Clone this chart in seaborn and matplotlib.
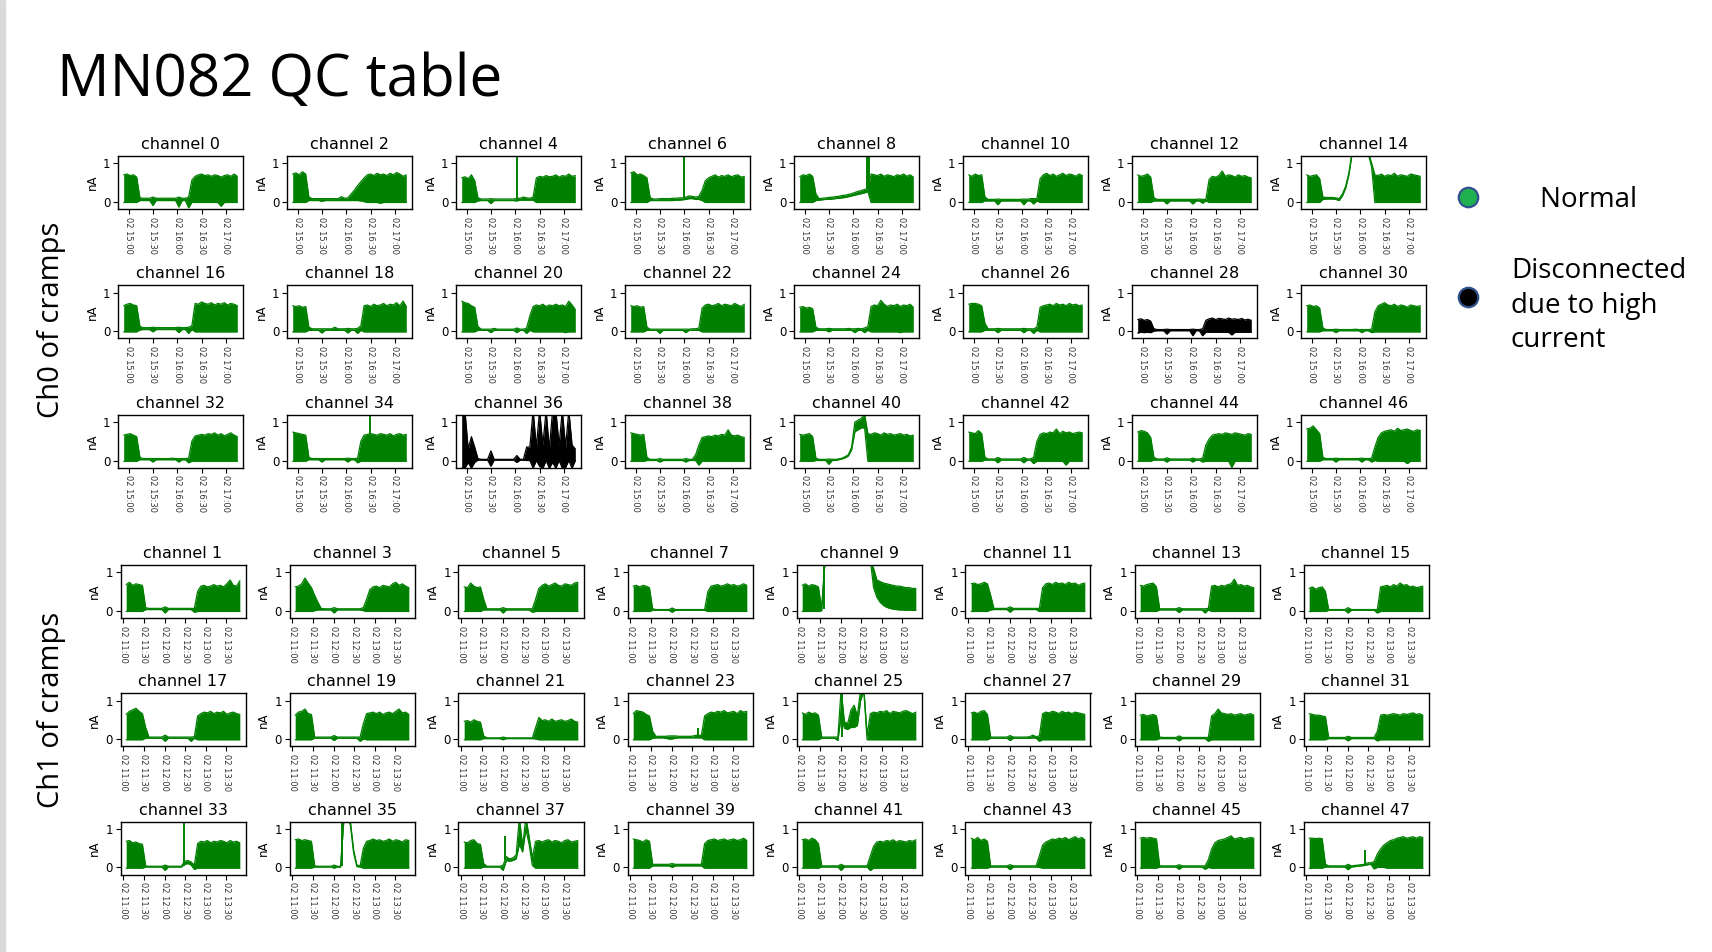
import numpy as np
import pandas as pd
import matplotlib
matplotlib.use("Agg")
import matplotlib.pyplot as plt
import matplotlib.dates as mdates
from matplotlib.lines import Line2D
from matplotlib.patches import Rectangle
from matplotlib.legend_handler import HandlerLine2D
import seaborn as sns

# 36 samples per session (day 02)
TIMES_CH0 = pd.date_range("2021-06-02 14:54", "2021-06-02 17:14", periods=36)
TIMES_CH1 = pd.date_range("2021-06-02 11:04", "2021-06-02 13:50", periods=36)

# upper / lower edge of each trace, in 0.01 nA
CH0_HI = [70,72,68,70,64,10, 9,9,9,12,9,9, 9,9,9,9,9,12, 9,9,12,56,66,70, 72,68,70,66,70,68, 64,68,70,66,72,66]
CH0_LO = [-2,-2,-2,-2,-2,3, 3,3,3,-10,3,3, 3,3,3,3,3,-14, 3,3,-16,-2,-2,-2, -2,-2,-2,-2,-2,-2, -12,-2,-2,-2,-2,-2]
CH2_HI = [72,75,70,78,72,12, 8,8,8,8,8,8, 8,8,8,13,9,10, 20,30,42,52,62,70, 72,68,74,70,72,68, 74,70,76,72,66,70]
CH2_LO = [-2,-2,-2,-2,-2,3, 3,3,3,1,3,3, 3,3,3,3,3,3, 3,3,3,2,0,-2, -2,-2,-2,-4,-2,-2, -2,-2,-2,-2,-2,-2]
CH4_HI = [62,65,60,70,55,10, 7,7,7,8,7,7, 7,7,7,7,7,9, 9,12,10,9,12,62, 66,64,68,65,66,70, 64,68,66,72,66,68]
CH4_LO = [-2,-2,-2,-2,-2,2, 3,3,3,-5,3,3, 3,3,3,3,3,2, 4,4,4,4,4,-2, -2,-2,-2,-2,-2,-2, -2,-2,-2,-2,-2,-2]
CH6_HI = [75,78,70,72,68,62, 10,7,7,8,8,8, 8,9,9,10,10,12, 15,14,12,14,30,55, 62,66,70,64,68,66, 70,65,68,70,64,66]
CH6_LO = [-2,-2,-2,-2,-2,-2, 3,3,3,3,3,3, 3,3,4,4,5,6, 8,8,6,6,3,-2, -2,-2,-2,-2,-2,-2, -2,-2,-2,-2,-2,-2]
CH8_HI = [65,70,68,72,66,20, 8,9,10,11,12,13, 14,16,17,19,21,24, 27,29,32,34,72,70, 68,72,66,70,68,65, 70,68,72,66,70,64]
CH8_LO = [-2,-2,-2,-2,-2,3, 4,5,6,6,7,8, 9,10,11,13,15,17, 19,21,23,26,-2,-2, -2,-2,-2,-2,-2,-2, -2,-2,-2,-2,-2,-2]
CH10_HI = [70,66,72,68,70,12, 6,6,6,7,6,6, 6,6,6,6,6,7, 6,8,8,8,60,70, 74,68,72,66,70,74, 68,72,70,66,72,68]
CH10_LO = [-2,-2,-2,-2,-2,2, 2,2,2,-8,2,2, 2,2,2,2,2,-8, 2,2,-6,2,-2,-2, -2,-2,-2,-2,-2,-2, -2,-2,-2,-2,-2,-2]
CH12_HI = [70,66,68,72,64,10, 6,6,6,6,6,6, 6,6,6,6,6,6, 6,7,6,6,58,66, 64,68,80,66,70,68, 64,70,66,68,64,62]
CH12_LO = [-2,-2,-2,-2,-2,2, 2,2,2,-6,2,2, 2,2,2,2,2,-6, 2,2,-4,2,-2,-2, -2,-2,-2,-2,-2,-2, -2,-2,-2,-2,-2,-2]
CH14_HI = [70,66,68,70,60,12, 11,11,11,10,8,20, 40,75,130,130,130,130, 130,130,100,70,68,72, 66,70,68,74,66,70, 68,66,72,70,68,66]
CH14_LO = [-2,-2,-2,-2,-2,6, 7,7,7,6,3,15, 35,70,125,130,130,130, 130,125,90,-2,-2,-2, -2,-2,-2,-2,-2,-2, -2,-2,-2,-2,-2,-2]
CH16_HI = [66,70,72,68,66,12, 9,9,9,10,9,9, 9,9,9,9,9,10, 9,9,10,14,72,70, 76,72,70,74,68,72, 70,74,68,72,70,66]
CH16_LO = [-2,-2,-2,-2,-2,3, 4,4,4,-2,4,4, 4,4,4,4,4,-4, 4,4,-6,4,-2,-2, -2,-2,-2,-2,-2,-2, -2,-2,-2,-2,-2,-2]
CH18_HI = [66,64,66,62,64,10, 6,6,6,6,6,6, 6,10,6,6,6,7, 6,6,7,14,66,68, 64,70,66,68,72,66, 70,68,74,66,78,64]
CH18_LO = [-2,-2,-2,-2,-2,2, 2,2,2,-5,2,2, 2,2,2,2,2,-5, 2,2,-6,2,-2,-2, -2,-2,-2,-2,-2,-2, -2,-2,-2,-2,-2,-2]
CH20_HI = [78,74,72,66,62,12, 5,5,5,5,7,5, 5,5,5,5,5,8, 5,5,8,40,64,68, 66,70,64,68,66,70, 66,68,64,78,68,56]
CH20_LO = [-2,-2,-2,-2,-2,2, 2,2,2,-4,2,2, 2,2,2,2,2,-4, 2,2,-6,2,-2,-2, -2,-2,-2,-2,-2,-2, -2,-2,-4,-2,-2,-2]
CH22_HI = [66,64,66,62,64,10, 5,5,5,5,5,5, 5,5,5,5,5,5, 5,6,6,8,60,68, 70,66,68,72,66,70, 68,66,72,68,64,70]
CH22_LO = [-2,-2,-2,-2,-2,2, 2,2,2,-6,2,2, 2,2,2,2,2,-4, 2,2,2,2,-2,-2, -2,-2,-2,-2,-2,-2, -2,-2,-2,-2,-2,-2]
CH24_HI = [62,64,60,62,58,10, 6,6,6,7,6,6, 6,6,6,7,6,6, 7,6,8,12,64,68, 66,80,70,64,68,66, 70,64,68,66,70,62]
CH24_LO = [-2,-2,-2,-2,-2,2, 2,2,2,-2,2,2, 2,2,2,2,2,-4, 2,2,-4,2,-2,-2, -2,-2,-2,-2,-2,-2, -2,-4,-2,-2,-2,-2]
CH26_HI = [70,72,72,70,66,20, 6,6,6,7,6,6, 6,6,6,6,6,7, 6,6,6,10,62,66, 68,70,66,72,68,70, 66,72,68,70,66,68]
CH26_LO = [-2,-2,-2,-2,-2,2, 2,2,2,-4,2,2, 2,2,2,2,2,-4, 2,2,-6,2,-2,-2, -2,-2,-2,-2,-2,-2, -2,-2,-2,-2,-2,-2]
CH28_HI = [30,32,28,30,26,6, 4,4,4,5,4,4, 4,4,4,4,4,5, 4,4,6,28,32,34, 30,33,32,30,34,31, 32,30,33,29,31,28]
CH28_LO = [-5,-3,-4,-3,-4,0, 1,1,1,-8,1,1, 1,1,1,1,1,-12, 1,1,-12,-3,-3,-3, -3,-3,-3,-3,-3,-10, -3,-3,-3,-3,-3,-3]
CH30_HI = [66,68,64,66,60,8, 4,4,4,5,4,4, 4,4,4,5,4,4, 4,4,5,50,66,70, 74,68,66,70,64,68, 66,62,68,66,64,66]
CH30_LO = [-2,-2,-2,-2,-2,1, 1,1,1,-4,1,1, 1,1,1,1,1,-4, 1,1,-4,-2,-2,-2, -2,-2,-2,-2,-2,-2, -2,-2,-2,-2,-2,-2]
CH32_HI = [66,68,70,66,62,8, 5,5,5,5,5,5, 5,5,5,6,5,5, 5,5,6,50,64,66, 68,66,70,68,72,66, 70,64,68,72,66,62]
CH32_LO = [-2,-2,-2,-2,-2,2, 2,2,2,-4,2,2, 2,2,2,2,2,-4, 2,2,-6,-2,-2,-2, -2,-2,-2,-2,-2,-2, -2,-2,-2,-2,-2,-2]
CH34_HI = [74,72,70,68,66,8, 5,5,5,5,5,5, 5,5,5,5,5,6, 5,5,6,50,66,68, 70,68,66,70,68,66, 70,64,68,70,66,68]
CH34_LO = [-2,-2,-2,-2,-2,2, 2,2,2,-4,2,2, 2,2,2,2,2,-4, 2,2,-6,-2,-2,-2, -2,-2,-2,-2,-2,-2, -2,-2,-2,-2,-2,-2]
CH36_HI = [130,130,30,62,35,5, 3,3,3,25,3,3, 3,3,3,3,3,13, 3,3,35,35,130,35, 130,40,130,30,130,130, 40,130,35,130,40,30]
CH36_LO = [-20,-20,-5,-20,-5,1, 1,1,1,-15,1,1, 1,1,1,1,1,-5, 1,1,0,0,-20,0, -15,-20,0,-20,-5,-20, 0,-20,-18,0,-20,0]
CH38_HI = [72,70,68,66,68,8, 3,3,3,5,3,3, 3,3,3,3,3,5, 3,3,15,40,60,62, 64,62,66,64,68,66, 80,66,64,66,62,60]
CH38_LO = [-2,-2,-2,-2,-2,0, 0,0,0,-4,0,0, 0,0,0,0,0,-4, 0,0,0,-12,-2,-2, -2,-2,-2,-2,-2,-2, -2,-2,-2,-2,-2,-2]
CH40_HI = [68,66,68,70,62,6, 3,3,3,4,3,3, 4,6,10,15,35,100, 105,110,120,70,68,72, 70,66,72,68,70,66, 68,70,66,68,64,66]
CH40_LO = [-2,-2,-2,-2,-2,0, 0,0,0,-10,0,0, 2,4,7,12,28,75, 80,85,85,-2,-2,-2, -2,-2,-2,-2,-2,-2, -2,-2,-2,-2,-2,-2]
CH42_HI = [74,72,70,78,70,8, 4,4,4,8,4,4, 4,4,4,4,4,8, 4,4,8,50,68,72, 70,74,72,82,70,76, 72,74,70,72,74,72]
CH42_LO = [-2,-2,-2,-2,-2,1, 1,1,1,-6,1,1, 1,1,1,1,1,-6, 1,1,-8,-2,-2,-2, -2,-2,-2,-2,-2,-2, -12,-2,-2,-2,-2,-2]
CH44_HI = [74,78,76,72,60,8, 4,4,4,7,4,4, 4,4,4,4,4,6, 4,4,6,40,56,66, 68,70,68,72,70,68, 72,70,68,66,70,68]
CH44_LO = [-2,-2,-2,-2,-2,1, 1,1,1,-4,1,1, 1,1,1,1,1,-4, 1,1,-4,-2,-2,-2, -2,-2,-2,-2,-2,-18, -2,-2,-2,-2,-2,-2]
CH46_HI = [82,84,90,80,70,8, 5,5,5,6,5,5, 5,5,5,5,5,6, 5,5,6,35,60,72, 76,78,80,76,84,78, 80,82,78,76,80,78]
CH46_LO = [-2,-2,-2,-2,-2,2, 2,2,2,-4,2,2, 2,2,2,2,2,-4, 2,2,-4,0,-2,-2, -2,-2,-2,-2,-2,-2, -2,-8,-2,-2,-2,-2]

CH1_HI = [68,74,66,70,68,66, 8,6,6,6,6,6, 10,6,6,6,6,6, 6,6,6,6,50,64, 66,62,64,68,64,66, 62,70,80,66,64,78]
CH1_LO = [-2,-2,-2,-2,-2,-2, 3,3,3,3,3,3, -6,3,3,3,3,3, 3,3,3,-4,-2,-2, -2,-2,-2,-2,-2,-2, -2,-2,-2,-2,-2,-2]
CH3_HI = [62,64,70,85,72,60, 40,22,6,5,5,5, 8,5,5,5,5,5, 5,5,5,8,30,55, 62,64,60,66,64,62, 70,74,66,70,64,60]
CH3_LO = [-2,-2,-2,-2,-2,-2, 0,2,2,2,2,2, -6,2,2,2,2,2, 2,2,2,0,-2,-2, -2,-2,-2,-2,-2,-2, -2,-2,-2,-2,-2,-2]
CH5_HI = [62,60,72,64,60,62, 30,5,5,5,5,5, 8,5,5,5,5,5, 5,5,5,5,30,58, 66,70,64,68,72,66, 64,70,68,66,72,74]
CH5_LO = [-2,-2,-2,-2,-2,-2, 2,2,2,2,2,2, -6,2,2,2,2,2, 2,2,2,-4,-2,-2, -2,-2,-2,-2,-2,-2, -2,-2,-2,-2,-2,-2]
CH7_HI = [64,66,62,66,64,60, 5,3,3,3,3,3, 7,3,3,3,3,3, 3,3,3,3,3,50, 64,66,68,64,66,70, 66,68,64,66,70,66]
CH7_LO = [-2,-2,-2,-2,-2,-2, 1,1,1,1,1,1, -4,1,1,1,1,1, 1,1,1,1,1,-2, -2,-2,-2,-2,-2,-2, -2,-2,-2,-2,-2,-2]
CH9_HI = [66,70,64,68,66,62, 5,130,130,130,130,130, 130,130,130,130,130,130, 130,130,130,130,110,80, 76,72,70,68,66,64, 64,62,60,60,58,58]
CH9_LO = [-2,-2,-2,-2,-2,-2, 0,125,130,130,130,130, 130,130,130,130,130,130, 130,130,130,130,60,35, 22,14,9,6,4,3, 2,2,1,1,1,1]
CH11_HI = [70,72,68,70,74,70, 40,6,6,6,6,6, 10,6,6,6,6,6, 6,6,6,6,60,70, 72,68,74,70,72,68, 74,70,72,66,70,72]
CH11_LO = [-2,-2,-2,-2,-2,-2, 2,3,3,3,3,3, -4,3,3,3,3,3, 3,3,3,-2,-2,-2, -2,-2,-2,-2,-2,-2, -2,-2,-2,-2,-2,-2]
CH13_HI = [66,64,68,70,72,62, 5,5,5,5,5,5, 8,5,5,5,5,5, 5,5,5,6,64,66, 62,66,64,68,70,82, 66,68,64,66,62,60]
CH13_LO = [-2,-2,-2,-2,-2,-2, 2,2,2,2,2,2, -5,2,2,2,2,2, 2,2,-6,2,-2,-2, -2,-2,-2,-2,-2,-2, -2,-2,-2,-2,-2,-2]
CH15_HI = [58,62,56,60,62,50, 3,3,3,3,3,3, 8,3,3,3,3,3, 3,3,3,3,62,64, 66,62,68,64,72,66, 68,62,64,60,62,64]
CH15_LO = [-2,-2,-2,-2,-2,-2, 1,1,1,1,1,1, -6,1,1,1,1,1, 1,1,1,-6,-2,-2, -2,-2,-2,-2,-2,-2, -2,-2,-2,-2,-2,-2]
CH17_HI = [64,72,76,80,72,66, 30,5,5,5,5,5, 10,5,5,5,5,5, 5,5,5,6,60,66, 70,68,72,66,70,68, 72,64,68,70,66,64]
CH17_LO = [-2,-2,-2,-2,-2,-2, 2,2,2,2,2,2, -6,2,2,2,2,2, 2,2,-6,2,-2,-2, -2,-2,-2,-2,-2,-2, -2,-2,-2,-2,-2,-2]
CH19_HI = [62,70,72,78,66,64, 5,5,5,5,5,5, 9,5,5,5,5,5, 5,5,5,40,66,68, 70,66,70,64,68,70, 66,72,78,68,70,64]
CH19_LO = [-2,-2,-2,-2,-2,-2, 2,2,2,2,2,2, -4,2,2,2,2,2, 2,2,-6,0,-2,-2, -2,-2,-2,-2,-2,-2, -2,-2,-2,-2,-2,-2]
CH21_HI = [46,48,44,50,46,44, 8,3,3,3,3,3, 5,3,3,3,3,3, 3,3,3,3,30,56, 48,50,46,52,46,48, 50,46,48,52,46,44]
CH21_LO = [-2,-2,-2,-2,-2,-2, 1,1,1,1,1,1, -2,1,1,1,1,1, 1,1,1,1,0,-2, -2,-2,-2,-2,-2,-2, -2,-2,-2,-2,-2,-2]
CH23_HI = [66,74,72,70,64,60, 20,7,7,7,7,8, 8,8,7,7,7,7, 7,9,10,9,60,66, 70,68,72,70,74,68, 70,72,66,74,70,72]
CH23_LO = [-2,-2,-2,-2,-2,-2, 2,3,3,3,2,0, 0,2,3,3,3,3, 3,3,3,3,-2,-2, -2,-2,-2,-2,-2,-2, -2,-2,-2,-2,-2,-2]
CH25_HI = [68,64,70,66,68,62, 5,5,5,5,5,5, 130,45,40,75,88,60, 130,130,10,66,70,68, 72,70,74,66,72,70, 68,72,74,70,66,70]
CH25_LO = [-2,-2,-2,-2,-2,-2, 2,2,2,2,2,-4, 60,28,25,30,30,35, 100,125,-2,-2,-2,-2, -2,-2,-2,-2,-2,-2, -2,-2,-2,-2,-2,-2]
CH27_HI = [68,70,66,72,74,64, 5,5,5,5,5,5, 9,5,5,5,5,5, 6,10,6,8,66,70, 68,72,70,66,72,68, 70,66,70,68,66,64]
CH27_LO = [-2,-2,-2,-2,-2,-2, 2,2,2,2,2,2, -4,2,2,2,2,2, 2,3,2,-6,-2,-2, -2,-2,-2,-2,-2,-2, -2,-2,-2,-2,-2,-2]
CH29_HI = [62,64,60,62,64,60, 5,4,4,4,4,4, 8,4,4,4,4,4, 4,4,4,4,60,66, 78,68,66,64,66,62, 64,66,62,64,66,62]
CH29_LO = [-2,-2,-2,-2,-2,-2, 1,1,1,1,1,1, -5,1,1,1,1,1, 1,1,1,-6,-2,-2, -2,-2,-2,-2,-2,-2, -2,-2,-2,-2,-2,-2]
CH31_HI = [66,64,62,62,60,58, 4,4,4,4,4,4, 7,4,4,4,4,4, 4,4,4,20,62,64, 62,64,66,64,62,66, 64,66,68,64,66,62]
CH31_LO = [-2,-2,-2,-2,-2,-2, 1,1,1,1,1,1, -5,1,1,1,1,1, 1,1,1,-5,-2,-2, -2,-2,-2,-2,-2,-2, -2,-2,-2,-2,-2,-2]
CH33_HI = [68,70,64,66,62,60, 4,3,3,3,3,3, 6,3,3,3,3,3, 16,18,14,6,62,68, 66,70,64,68,66,70, 68,64,70,66,68,64]
CH33_LO = [-2,-2,-2,-2,-2,-2, 1,1,1,1,1,1, -8,1,1,1,1,1, 8,10,6,-5,-2,-2, -2,-2,-2,-2,-2,-2, -2,-2,-2,-2,-2,-2]
CH35_HI = [72,74,70,72,70,68, 4,3,3,3,3,3, 6,3,3,130,130,120, 45,6,4,50,68,70, 74,70,72,68,70,74, 68,72,70,66,72,70]
CH35_LO = [-2,-2,-2,-2,-2,-2, 1,1,1,1,1,1, -2,1,1,125,130,110, 38,2,1,-2,-2,-2, -2,-2,-2,-2,-2,-2, -2,-2,-2,-2,-2,-2]
CH37_HI = [66,64,70,72,62,60, 10,3,3,3,3,3, 6,28,22,25,32,130, 55,130,80,25,68,70, 66,70,72,66,70,68, 64,70,72,66,68,70]
CH37_LO = [-2,-2,-2,-2,-2,-2, 1,1,1,1,1,1, -8,18,16,18,22,60, 40,100,60,5,-2,-2, -2,-2,-2,-2,-2,-2, -2,-2,-2,-2,-2,-2]
CH39_HI = [74,72,70,66,72,68, 8,8,8,8,8,8, 10,8,8,8,8,8, 8,8,8,8,62,70, 72,74,70,72,74,70, 72,74,70,72,76,70]
CH39_LO = [-2,-2,-2,-2,-2,-2, 4,4,4,4,4,4, 0,4,4,4,4,4, 4,4,4,4,-2,-2, -2,-2,-2,-2,-2,-2, -2,-2,-2,-2,-2,-2]
CH41_HI = [72,74,70,76,72,62, 4,4,4,4,4,4, 8,4,4,4,4,4, 4,4,4,30,55,66, 68,66,70,68,72,66, 70,68,66,70,68,72]
CH41_LO = [-2,-2,-2,-2,-2,-2, 1,1,1,1,1,1, -8,1,1,1,1,1, 1,1,1,-8,-2,-2, -2,-2,-2,-2,-2,-2, -2,-2,-2,-2,-2,-2]
CH43_HI = [76,72,78,70,74,68, 4,4,4,4,4,4, 7,4,4,4,4,4, 4,4,4,30,58,66, 70,74,72,76,74,78, 72,76,80,74,78,72]
CH43_LO = [-2,-2,-2,-2,-2,-2, 1,1,1,1,1,1, -6,1,1,1,1,1, 1,1,1,0,-2,-2, -2,-2,-2,-2,-2,-2, -2,-2,-2,-2,-2,-2]
CH45_HI = [76,78,76,78,76,74, 4,4,4,4,4,4, 7,4,4,4,4,4, 4,4,4,20,48,64, 70,72,74,78,82,74, 76,78,74,76,78,76]
CH45_LO = [-2,-2,-2,-2,-2,-2, 1,1,1,1,1,1, -5,1,1,1,1,1, 1,1,-5,0,-2,-2, -2,-2,-2,-2,-2,-2, -2,-2,-2,-2,-2,-2]
CH47_HI = [76,76,75,76,75,8, 4,4,4,4,4,4, 8,4,5,6,7,8, 12,12,15,35,48,58, 64,70,72,76,78,80, 76,78,80,76,80,78]
CH47_LO = [-2,-2,-2,-2,-2,1, 1,1,1,1,1,1, -6,1,2,3,4,5, 7,8,-4,0,0,0, -2,-2,-2,-2,-2,-2, -2,-2,-2,-2,-2,-2]

# channels flagged as disconnected (high current)
DISCONNECTED = [28, 36]

# short vertical excursions (channel, time, from nA, to nA)
SPIKE_CHANNELS = [4, 6, 8, 8, 34, 9, 23, 25, 33, 35, 37, 47]
SPIKE_TIMES = ["16:02", "16:00", "16:17", "16:20", "16:29", "11:36",
               "12:39", "12:02", "12:28", "12:12", "12:04", "12:26"]
SPIKE_FROM = [0.07, 0.10, 0.32, 0.30, 0.65, 0.05, 0.08, 0.05, 0.03, 0.03, 0.20, 0.07]
SPIKE_TO = [1.3, 1.3, 1.3, 1.3, 1.3, 1.3, 0.28, 1.3, 1.3, 1.3, 0.82, 0.46]

HI = {n: globals()[f"CH{n}_HI"] for n in range(48)}
LO = {n: globals()[f"CH{n}_LO"] for n in range(48)}
for n in range(48):
    if len(HI[n]) != 36 or len(LO[n]) != 36:
        raise ValueError(f"channel {n}: {len(HI[n])} / {len(LO[n])}")


class RaisedMarker(HandlerLine2D):
    """Legend handler that draws the marker a few points above the text centre."""

    def __init__(self, lift, **kw):
        super().__init__(**kw)
        self.lift = lift

    def create_artists(self, legend, orig_handle, xdescent, ydescent,
                       width, height, fontsize, trans):
        return super().create_artists(legend, orig_handle, xdescent,
                                      ydescent - 2 * self.lift, width, height,
                                      fontsize, trans)


sns.set_theme(style="ticks", context="notebook")
plt.rcParams["font.family"] = ["DejaVu Sans"]
plt.rcParams["axes.edgecolor"] = "black"
plt.rcParams["axes.linewidth"] = 1.0
plt.rcParams["text.color"] = "black"
plt.rcParams["axes.labelcolor"] = "black"
plt.rcParams["xtick.color"] = "black"
plt.rcParams["ytick.color"] = "black"

W, H = 1712, 952
fig = plt.figure(figsize=(W / 100, H / 100), dpi=100)
fig.patches.append(Rectangle((0, 0), 4.5 / W, 1, transform=fig.transFigure,
                             color="#dadada", zorder=0))

blocks = [
    (0, TIMES_CH0, 118.0, [156.0, 285.4, 414.8]),
    (1, TIMES_CH1, 120.5, [565.0, 693.3, 821.7]),
]
pitch, aw, ah = 169.0, 125.0, 53.0

for parity, times, left0, row_tops in blocks:
    day = times[0].strftime("%Y-%m-%d")
    span = times[-1] - times[0]
    for r, top in enumerate(row_tops):
        for c in range(8):
            ch = 16 * r + 2 * c + parity
            left = left0 + pitch * c
            ax = fig.add_axes([left / W, 1 - (top + ah) / H, aw / W, ah / H])
            color = "black" if ch in DISCONNECTED else "green"
            df = pd.DataFrame({"time": times,
                               "hi": np.array(HI[ch]) / 100.0,
                               "lo": np.array(LO[ch]) / 100.0})
            ax.fill_between(df["time"], df["lo"], df["hi"], color=color, lw=0)
            sns.lineplot(data=df, x="time", y="hi", ax=ax, color=color, lw=0.9)
            sns.lineplot(data=df, x="time", y="lo", ax=ax, color=color, lw=0.9)
            for sc, st, s0, s1 in zip(SPIKE_CHANNELS, SPIKE_TIMES, SPIKE_FROM, SPIKE_TO):
                if sc == ch:
                    ax.vlines(pd.Timestamp(f"{day} {st}"), s0, s1, color=color, lw=1.4)

            ax.set_xlim(times[0] - 0.05 * span, times[-1] + 0.05 * span)
            ax.set_ylim(-0.19, 1.19)
            ax.set_yticks([0, 1])
            ax.xaxis.set_major_locator(mdates.MinuteLocator(byminute=[0, 30]))
            ax.xaxis.set_major_formatter(mdates.DateFormatter("%d %H:%M"))
            ax.tick_params(axis="x", labelsize=6.0, labelrotation=270,
                           labelcolor="#333333", length=3.5, width=0.8, pad=2)
            ax.tick_params(axis="y", labelsize=8.5, length=3.5, width=0.8, pad=2)
            ax.set_xlabel("")
            ax.set_ylabel("nA", fontsize=8.5, labelpad=3)
            ax.set_title(f"channel {ch}", fontsize=11.5, pad=5)

slide_font = ["Open Sans", "DejaVu Sans"]
fig.text(57 / W, 1 - 96 / H, "MN082 QC table", fontsize=42, family=slide_font,
         color="black", ha="left", va="baseline")
fig.text(51 / W, 1 - 320 / H, "Ch0 of cramps", fontsize=21, family=slide_font,
         rotation=90, ha="center", va="center")
fig.text(51 / W, 1 - 710 / H, "Ch1 of cramps", fontsize=21, family=slide_font,
         rotation=90, ha="center", va="center")

normal_dot = Line2D([], [], ls="", marker="o", markersize=14, markerfacecolor="#21b04f",
                    markeredgecolor="#2f528f", markeredgewidth=1.6)
disc_dot = Line2D([], [], ls="", marker="o", markersize=14, markerfacecolor="black",
                  markeredgecolor="#2f528f", markeredgewidth=1.6)
leg = fig.legend([normal_dot, disc_dot],
                 ["    Normal", "Disconnected\ndue to high\ncurrent"],
                 loc="upper left", bbox_to_anchor=(1440 / W, 1 - 186 / H),
                 frameon=False, prop={"family": slide_font, "size": 20},
                 handletextpad=0.55, labelspacing=1.55, borderpad=0, borderaxespad=0,
                 handler_map={disc_dot: RaisedMarker(lift=7.0)})
for t in leg.get_texts():
    t.set_linespacing(1.32)

fig.savefig("out.png", dpi=100)
plt.close(fig)
